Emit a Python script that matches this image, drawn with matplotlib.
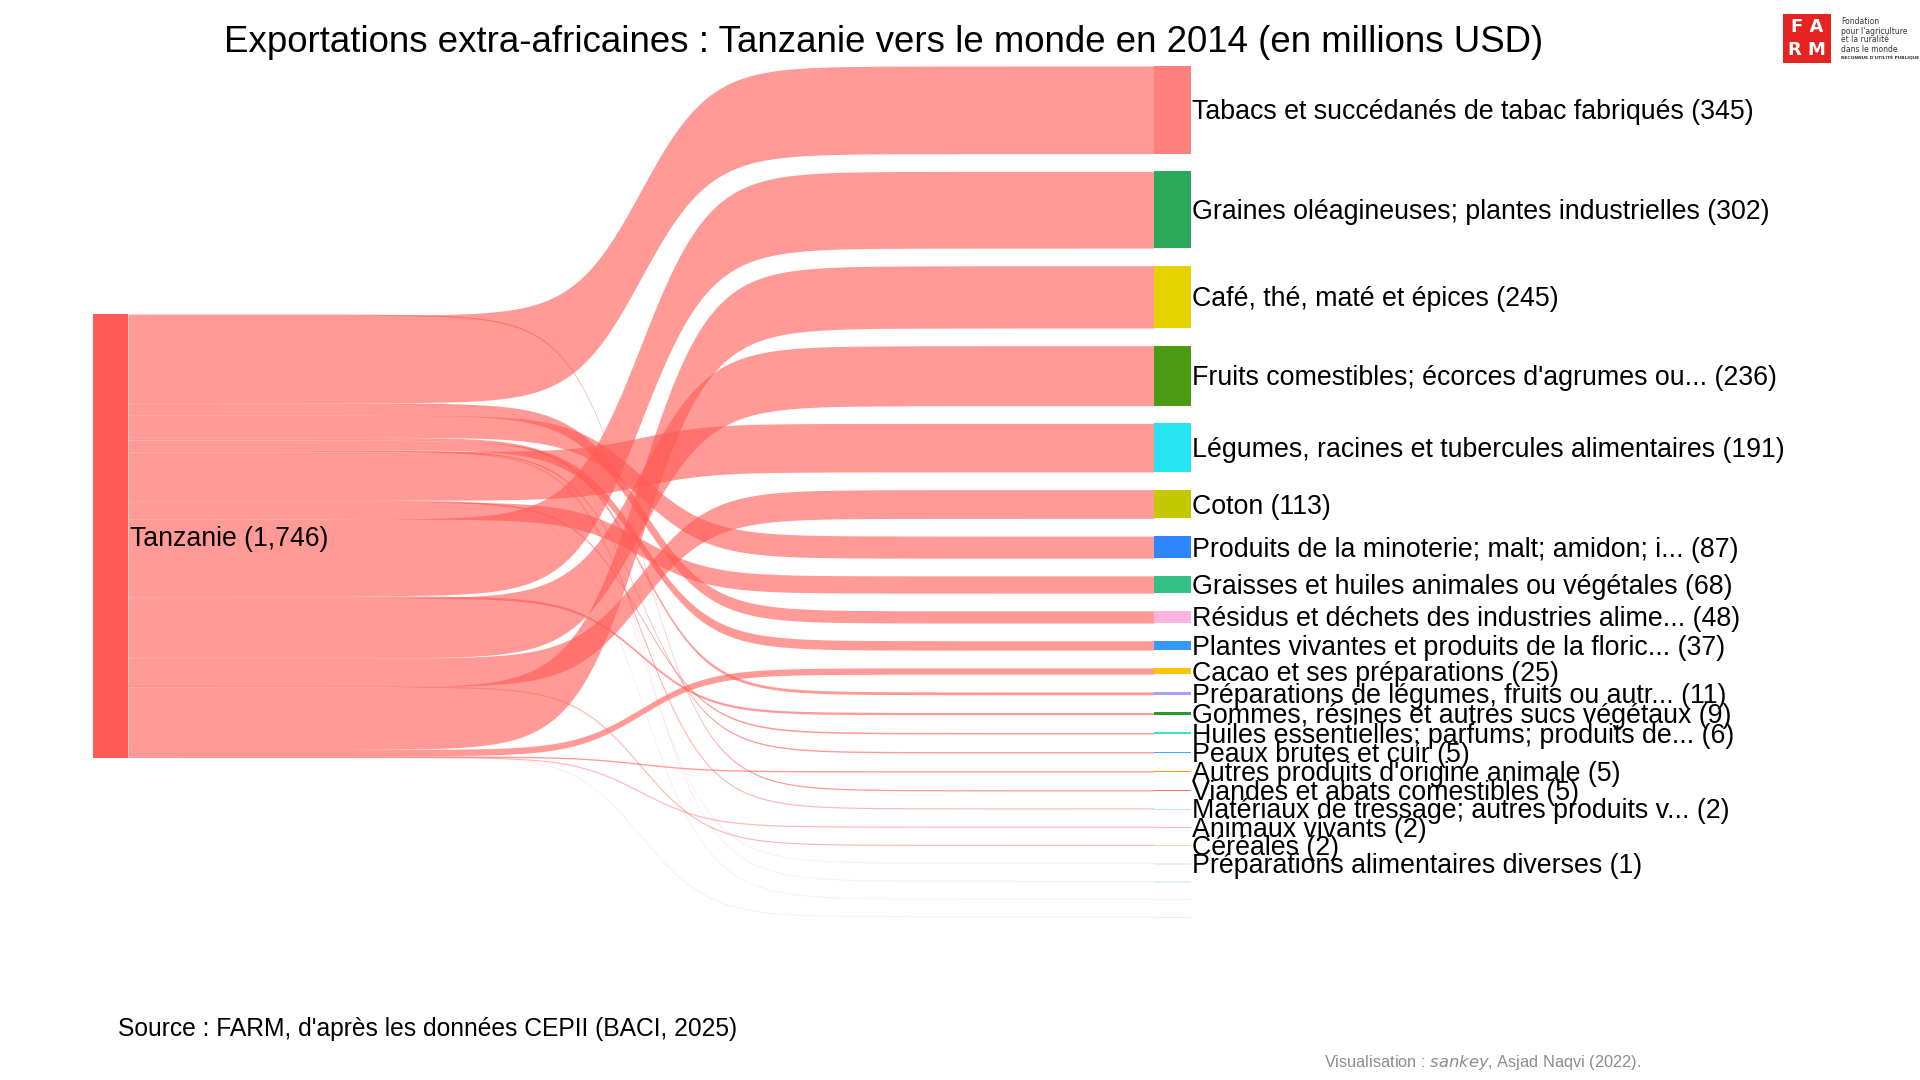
import unicodedata
import numpy as np
import matplotlib
matplotlib.use("Agg")
import matplotlib.pyplot as plt
from matplotlib.patches import Rectangle

# ---------------- data ----------------
source_name = "Tanzanie"
source_color = "#FF5A55"

targets = [
    "Tabacs et succédanés de tabac fabriqués",
    "Graines oléagineuses; plantes industrielles",
    "Café, thé, maté et épices",
    "Fruits comestibles; écorces d'agrumes ou...",
    "Légumes, racines et tubercules alimentaires",
    "Coton",
    "Produits de la minoterie; malt; amidon; i...",
    "Graisses et huiles animales ou végétales",
    "Résidus et déchets des industries alime...",
    "Plantes vivantes et produits de la floric...",
    "Cacao et ses préparations",
    "Préparations de légumes, fruits ou autr...",
    "Gommes, résines et autres sucs végétaux",
    "Huiles essentielles; parfums; produits de...",
    "Peaux brutes et cuir",
    "Autres produits d'origine animale",
    "Viandes et abats comestibles",
    "Matériaux de tressage; autres produits v...",
    "Animaux vivants",
    "Céréales",
    "Préparations alimentaires diverses",
    "Sucres et sucreries",
    "Lait et produits de la laiterie",
    "Boissons, liquides alcooliques et vinaigres",
]
values = [345, 302, 245, 236, 191, 113, 87, 68, 48, 37, 25, 11, 9, 6,
          5.4, 5.2, 4.9, 2.3, 2.0, 1.8, 1.0, 0.3, 0.2, 0.1]
target_colors = [
    "#FF7F7F", "#2CA85A", "#E6D200", "#4A9A14", "#27E4F4", "#C4C800",
    "#2E86FF", "#33C085", "#FFB3DE", "#3399FF", "#FFC400", "#A8A0FF",
    "#2A9A2A", "#3FE0C0", "#3AA8FF", "#FF9A20", "#FF6F6F", "#A8ECFF",
    "#FFB4A8", "#D8E6A8", "#ECECFF", "#E4ECFF", "#FFEEDD", "#FFE6E6",
]

title = "Exportations extra-africaines : Tanzanie vers le monde en 2014 (en millions USD)"
source_note = "Source : FARM, d'après les données CEPII (BACI, 2025)"

# ---------------- layout ----------------
W, H = 1920, 1080
scale = 0.2541          # px per million USD
gap = 17.7              # px between right nodes
right_top = 66.0
left_top = 314.0
xl0, xl1 = 93.0, 128.0    # left node
xr0, xr1 = 1154.0, 1191.0  # right nodes
k = 30.0
link_alpha = 0.61

fig = plt.figure(figsize=(W / 100, H / 100), dpi=100)
ax = fig.add_axes([0, 0, 1, 1])
ax.set_xlim(0, W)
ax.set_ylim(H, 0)
ax.axis("off")

FONT = "Liberation Sans"

# right node positions
heights = [v * scale for v in values]
r_tops = []
y = right_top
for h in heights:
    r_tops.append(y)
    y += h + gap

# left stacking order: reverse alphabetical (accent-insensitive)
def key(s):
    return unicodedata.normalize("NFD", s).encode("ascii", "ignore").decode().lower()

order = sorted(range(len(targets)), key=lambda i: key(targets[i]), reverse=True)

xs = np.linspace(xl1, xr0, 600)
t = (xs - xl1) / (xr0 - xl1)
sig = 1.0 / (1.0 + np.exp(-k * (t - 0.5)))
sig = (sig - sig[0]) / (sig[-1] - sig[0])

yl = left_top
for i in order:
    h = heights[i]
    top = yl + (r_tops[i] - yl) * sig
    if h >= 1.2:
        ax.fill_between(xs, top, top + h, color=source_color, alpha=link_alpha, lw=0)
    else:
        if h > 0.4:
            a, lw = 0.45, 0.8
        else:
            a, lw = 0.12, 0.7
        ax.plot(xs, top + h / 2, color=source_color, alpha=a, lw=lw, solid_capstyle="butt")
    yl += h

total = sum(values)
# left node
ax.add_patch(Rectangle((xl0, left_top), xl1 - xl0, total * scale, color=source_color, lw=0))
ax.text(xl1 + 2, left_top + total * scale / 2 + 3, f"{source_name} ({total:,.0f})",
        fontsize=19.2, family=FONT, va="center", ha="left", color="black")

# right nodes + labels
for i, name in enumerate(targets):
    h = max(heights[i], 1.3)
    ax.add_patch(Rectangle((xr0, r_tops[i]), xr1 - xr0, h, color=target_colors[i], lw=0))
    if values[i] >= 0.5:
        ax.text(xr1 + 1, r_tops[i] + heights[i] / 2 + 2.5, f"{name} ({values[i]:.0f})",
                fontsize=19.3, family=FONT, va="center", ha="left", color="black")

# title and notes
ax.text(884, 42, title, fontsize=26.4, family=FONT, ha="center", va="center")
ax.text(118, 1029, source_note, fontsize=17.7, family=FONT, ha="left", va="center")
ax.text(1641, 1062, r"Visualisation : $\it{sankey}$, Asjad Naqvi (2022).", fontsize=11.8,
        family=FONT, ha="right", va="center", color="#8C8C8C")

# logo
ax.add_patch(Rectangle((1783, 14), 48, 49, color="#E52421", lw=0))
ax.text(1807, 27, "F A", fontsize=13, family="DejaVu Sans", color="white",
        ha="center", va="center", fontweight="bold")
ax.text(1807, 50, "R M", fontsize=13, family="DejaVu Sans", color="white",
        ha="center", va="center", fontweight="bold")
for j, line in enumerate(["Fondation", "pour l'agriculture", "et la ruralité", "dans le monde"]):
    ax.text(1841, 22 + 9 * j, line, fontsize=5.5, family="DejaVu Sans", ha="left",
            va="center", color="#333333")
ax.text(1841, 58, "RECONNUE D'UTILITÉ PUBLIQUE", fontsize=3.2, family="DejaVu Sans",
        ha="left", va="center", color="#333333", fontweight="bold")

fig.savefig("out.png", dpi=100, facecolor="white")
